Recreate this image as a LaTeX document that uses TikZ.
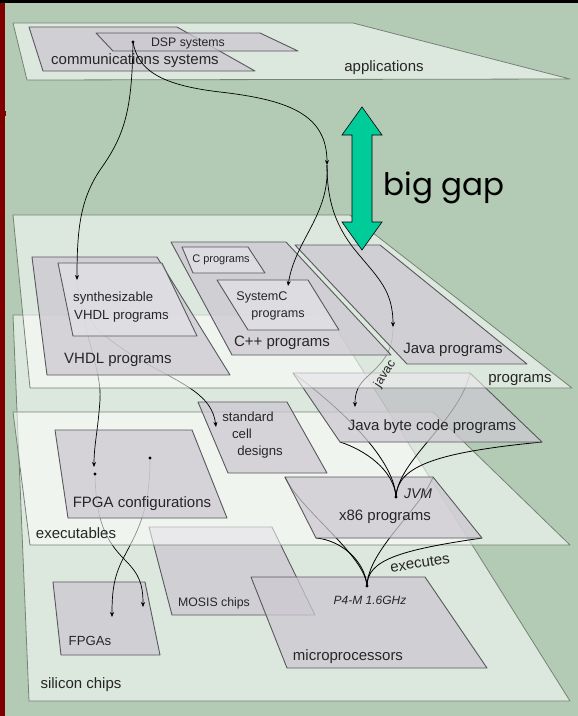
\documentclass[tikz,border=0pt]{standalone}
\usepackage{fontspec}
\setmainfont{Liberation Sans}
\newfontfamily\gapfont{Poppins}
\usetikzlibrary{arrows.meta}
\definecolor{bggreen}{RGB}{179,203,180}
\definecolor{planeedge}{RGB}{118,130,118}
\definecolor{boxgray}{RGB}{205,201,209}
\definecolor{boxlight}{RGB}{226,225,229}
\definecolor{boxedge}{RGB}{88,88,94}
\definecolor{txt}{RGB}{38,38,38}
\definecolor{darkred}{RGB}{128,0,0}
\definecolor{gapgreen}{RGB}{0,204,153}
\tikzset{
  plane/.style={fill=white, fill opacity=0.55, draw=planeedge, line width=0.8pt, line join=round},
  box/.style={fill=boxgray, fill opacity=0.75, draw=boxedge, line width=0.9pt, line join=round},
  lightbox/.style={box, fill=boxlight},
  lbl/.style={text=txt, inner sep=0pt, font=\fontsize{15}{15}\selectfont},
  lblm/.style={lbl, font=\fontsize{13.2}{13.2}\selectfont},
  lbls/.style={lbl, font=\fontsize{12.3}{12.3}\selectfont},
  conn/.style={draw=black, line width=0.7pt},
  cone/.style={draw=black, line width=0.8pt},
  arr/.style={conn, -{Stealth[length=5pt,width=4pt]}},
  dotmark/.style={fill=black}
}
\begin{document}
\begin{tikzpicture}[x=1pt,y=-1pt]
\useasboundingbox (0,0) rectangle (578,716);
% background
\fill[bggreen] (0,0) rectangle (578,716);
\fill[black] (0,0) rectangle (578,3);
\fill[darkred] (0,3) rectangle (5,716);
\fill[darkred] (0,111) rectangle (6,116);

% ---------------- silicon chips layer ----------------
\draw[plane] (13,315) -- (328,315) -- (570,701) -- (29,701) -- cycle;
\draw[box] (53,582) -- (145,582) -- (160,655) -- (61,655) -- cycle;
\draw[box] (149,527) -- (272,527) -- (315,615) -- (172,615) -- cycle;
\draw[box] (251,577) -- (425,577) -- (487,668) -- (287,668) -- cycle;
\node[lbl] (silicon) at (81,685) {silicon chips};
\node[lblm] (fpgas) at (90,641) {FPGAs};
\node[lbls] (mosis) at (214,603) {MOSIS chips};
\node[lbl] (micro) at (348,657) {microprocessors};
\node[lbls, font=\itshape\fontsize{12}{12}\selectfont] (p4lbl) at (370,600) {P4-M 1.6GHz};
\coordinate (cfgL) at (95,474);
\coordinate (cfgR) at (150,458);
\coordinate (fpgaR) at (143,607);
\coordinate (fpgaL) at (112,617);
\coordinate (p4) at (367,586);
\draw[arr] (cfgL) .. controls (96,520) and (105,540) .. (125,560) .. controls (140,575) and (143,585) .. (fpgaR);
\draw[arr] (cfgR) .. controls (150,510) and (138,530) .. (125,555) .. controls (114,575) and (112,590) .. (fpgaL);

% ---------------- executables layer ----------------
\draw[plane] (13,412) -- (433,412) -- (570,545) -- (30,545) -- cycle;
\coordinate (xTL) at (285,477);
\coordinate (xTR) at (433,477);
\coordinate (xBR) at (482,538);
\coordinate (xBL) at (316,538);
\draw[cone] (p4) .. controls (365,555) and (300,510) .. (xTL);
\draw[cone] (p4) .. controls (368,550) and (420,510) .. (xTR);
\draw[cone] (p4) .. controls (365,560) and (340,540) .. (xBL);
\draw[cone] (p4) .. controls (367,560) and (400,550) .. (xBR);
\fill[dotmark] (p4) circle (1.6pt);
\draw[box] (xTL) -- (xTR) -- (xBR) -- (xBL) -- cycle;
\coordinate (jvm) at (396,497);
\coordinate (bcTL) at (293,373);
\coordinate (bcTR) at (470,373);
\coordinate (bcBR) at (542,442);
\coordinate (bcBL) at (340,442);
\draw[cone] (jvm) .. controls (394,470) and (365,450) .. (bcBL);
\draw[cone] (jvm) .. controls (397,465) and (440,452) .. (bcBR);
\draw[cone] (jvm) .. controls (394,455) and (330,400) .. (bcTL);
\draw[cone] (jvm) .. controls (398,460) and (460,420) .. (bcTR);
\fill[dotmark] (jvm) circle (1.6pt);
\draw[box] (bcTL) -- (bcTR) -- (bcBR) -- (bcBL) -- cycle;
\draw[box] (55,430) -- (192,430) -- (227,518) -- (68,518) -- cycle;
\draw[box] (198,402) -- (287,402) -- (327,473) -- (228,473) -- cycle;
\node[lbl] (execlbl) at (76,533) {executables};
\node[lbl] (cfglbl) at (142,504) {FPGA configurations};
\node[lblm] (std1) at (248,417) {standard};
\node[lblm] (std2) at (242,434) {cell};
\node[lblm] (std3) at (260,452) {designs};
\node[lbl] (bclbl) at (432,427) {Java byte code programs};
\node[lbl] (x86lbl) at (385,517) {x86 programs};
\node[lbl, font=\itshape\fontsize{14}{14}\selectfont] (jvmlbl) at (418,494) {JVM};
\node[lbl, rotate=9] (execs) at (420,563) {executes};
\coordinate (synthtip) at (77,280);
\coordinate (stdtip) at (216,427);
\coordinate (cfgtip) at (94,467);
\coordinate (javatip) at (393,327);
\coordinate (bctip) at (355,407);
\draw[arr] (synthtip) .. controls (80,320) and (100,335) .. (140,360) .. controls (185,385) and (212,395) .. (stdtip);
\draw[arr] (synthtip) .. controls (82,330) and (102,370) .. (100,400) .. controls (98,430) and (94,445) .. (cfgtip);
\draw[arr] (javatip) .. controls (393,352) and (383,362) .. (368,376) .. controls (358,385) and (355,392) .. (bctip);
\fill[dotmark] (cfgL) circle (1.6pt);
\fill[dotmark] (cfgR) circle (1.6pt);

% ---------------- programs layer ----------------
\draw[plane] (13,215) -- (350,215) -- (572,388) -- (30,388) -- cycle;
\draw[box] (32,257) -- (157,257) -- (230,375) -- (47,375) -- cycle;
\draw[lightbox] (58,263) -- (162,263) -- (197,336) -- (73,336) -- cycle;
\draw[box] (171,242) -- (286,242) -- (391,355) -- (232,355) -- cycle;
\draw[lightbox] (182,247) -- (248,247) -- (265,273) -- (193,273) -- cycle;
\draw[lightbox] (217,280) -- (308,280) -- (339,330) -- (248,330) -- cycle;
\draw[box] (295,245) -- (380,245) -- (527,364) -- (407,364) -- cycle;
\node[lbl] (proglbl) at (520,380) {programs};
\node[lblm, anchor=west] (syn1) at (73,298) {synthesizable};
\node[lblm, anchor=west] (syn2) at (74,316) {VHDL programs};
\node[lbl] (vhdl) at (118,360) {VHDL programs};
\node[lbl, font=\fontsize{11}{11}\selectfont] (cprog) at (221,260) {C programs};
\node[lbls, font=\fontsize{12.6}{12.6}\selectfont] (sysc1) at (262,297) {SystemC};
\node[lbls, font=\fontsize{12.6}{12.6}\selectfont] (sysc2) at (278,315) {programs};
\node[lbl] (cpp) at (282,343) {C++ programs};
\node[lbl] (java) at (453,350) {Java programs};
\node[lbl, font=\fontsize{12.5}{12.5}\selectfont, rotate=57] (javac) at (385,374) {javac};

% ---------------- applications layer ----------------
\draw[plane] (13,23) -- (353,23) -- (570,79) -- (27,80) -- cycle;
\draw[box] (29,27) -- (177,27) -- (255,71) -- (43,71) -- cycle;
\draw[box] (96,33) -- (260,33) -- (298,51) -- (113,51) -- cycle;
\node[lbl] (apps) at (384,68) {applications};
\node[lbl] (comm) at (135,61) {communications systems};
\node[lbls] (dsp) at (188,43) {DSP systems};
\coordinate (dspdot) at (133,42);
\coordinate (junct) at (327,165);
\coordinate (sysctip) at (288,286);
\draw[arr] (dspdot) .. controls (132,110) and (125,135) .. (100,170) .. controls (80,200) and (77,230) .. (synthtip);
\draw[arr] (dspdot) .. controls (138,70) and (160,85) .. (220,92) .. controls (290,100) and (327,115) .. (junct);
\draw[arr] (junct) .. controls (330,215) and (295,240) .. (sysctip);
\draw[arr] (junct) .. controls (327,200) and (335,225) .. (355,250) .. controls (378,278) and (393,290) .. (javatip);
\fill[dotmark] (dspdot) circle (1.6pt);

% ---------------- big gap ----------------
\draw[fill=gapgreen, draw=black, line width=0.6pt, line join=miter]
  (362,107) -- (382,135) -- (372,135) -- (372,222) -- (382,222) -- (362,250)
  -- (342,222) -- (352,222) -- (352,135) -- (342,135) -- cycle;
\node[inner sep=0pt, anchor=base, font=\gapfont\fontsize{31}{31}\selectfont] (gap) at (444,195) {big gap};
\end{tikzpicture}
\end{document}
